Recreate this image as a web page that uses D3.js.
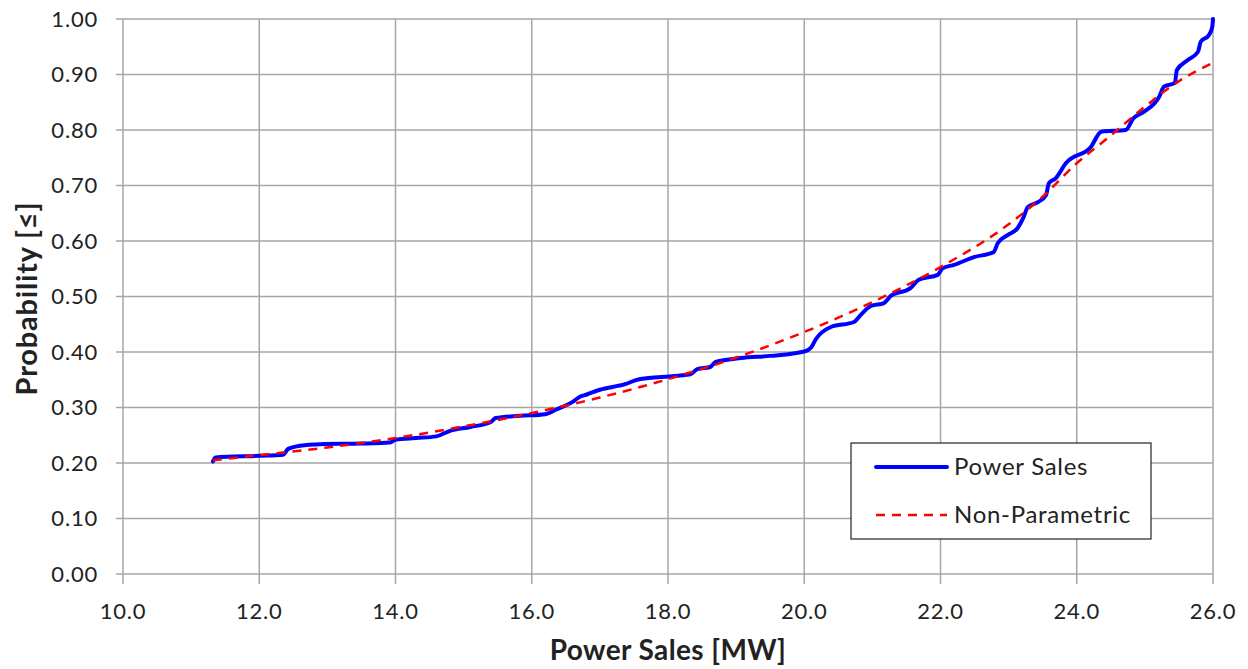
<!DOCTYPE html>
<html>
<head>
<meta charset="utf-8">
<script src="https://cdn.jsdelivr.net/npm/d3@7"></script>
<style>
  body { margin: 0; background: #fff; }
  svg { display: block; }
  text { font-family: Lato, Carlito, "Liberation Sans", Arial, sans-serif; fill: #222; }
</style>
</head>
<body>
<svg id="chart" width="1248" height="669"></svg>
<script>
const salesX = [11.32, 11.36, 12.0, 12.35, 12.42, 12.6, 12.9, 13.5, 13.92, 14.0, 14.3, 14.6, 14.8, 15.1, 15.4, 15.47,
  15.83, 16.2, 16.35, 16.6, 16.7, 16.8, 17.0, 17.37, 17.55, 17.9, 18.33, 18.43, 18.62, 18.7, 19.07, 19.5, 20.0, 20.1,
  20.17, 20.39, 20.73, 20.83, 20.98, 21.17, 21.27, 21.56, 21.68, 21.96, 22.03, 22.2, 22.49, 22.78, 22.84, 22.99, 23.13,
  23.22, 23.28, 23.43, 23.55, 23.59, 23.69, 23.84, 24.21, 24.36, 24.72, 24.83, 24.99, 25.21, 25.28, 25.44, 25.47, 25.63,
  25.78, 25.82, 25.94, 25.99, 26.0];
const salesP = [0.203, 0.210, 0.213, 0.215, 0.225, 0.231, 0.234, 0.235, 0.237, 0.242, 0.245, 0.248, 0.258, 0.265, 0.274, 0.281,
  0.285, 0.288, 0.296, 0.310, 0.319, 0.323, 0.332, 0.342, 0.350, 0.355, 0.360, 0.369, 0.373, 0.382, 0.389, 0.393, 0.401, 0.408,
  0.423, 0.445, 0.454, 0.467, 0.483, 0.488, 0.501, 0.515, 0.530, 0.539, 0.551, 0.557, 0.571, 0.580, 0.596, 0.611, 0.623,
  0.643, 0.661, 0.670, 0.683, 0.704, 0.713, 0.740, 0.770, 0.797, 0.800, 0.821, 0.833, 0.860, 0.878, 0.885, 0.908, 0.926,
  0.941, 0.959, 0.971, 0.986, 1.0];

// non-parametric fit
const fitX = [11.32, 12, 13, 14, 15, 16, 17, 18, 19, 20, 21, 22, 23, 23.5, 24, 24.5, 25, 25.5, 26];
const fitP = [0.205, 0.214, 0.228, 0.245, 0.266, 0.290, 0.318, 0.351, 0.390, 0.436, 0.490, 0.553, 0.630, 0.680, 0.740, 0.790, 0.842, 0.888, 0.921];

const xTicks = d3.range(10, 26.01, 2);
const yTicks = d3.range(0, 1.001, 0.1);

const svg = d3.select('#chart');
const margin = { left: 123, right: 35, top: 19, bottom: 95 };
const W = 1248, H = 669;

const x = d3.scaleLinear([10, 26], [margin.left, W - margin.right]);
const y = d3.scaleLinear([0, 1], [H - margin.bottom, margin.top]);

const grid = svg.append('g').attr('stroke', '#a6a6a6').attr('stroke-width', 1.5);
grid.selectAll('.gx').data(xTicks).join('line')
  .attr('x1', d => x(d)).attr('x2', d => x(d))
  .attr('y1', y(1)).attr('y2', y(0) + 10);
grid.selectAll('.gy').data(yTicks).join('line')
  .attr('y1', d => y(d)).attr('y2', d => y(d))
  .attr('x1', x(10) - 7).attr('x2', x(26));

svg.append('g').selectAll('text').data(yTicks).join('text')
  .attr('x', 98).attr('y', d => y(d)).attr('dy', '0.35em')
  .attr('text-anchor', 'end').attr('font-size', 22).attr('letter-spacing', 0.8)
  .text(d => d.toFixed(2));

svg.append('g').selectAll('text').data(xTicks).join('text')
  .attr('x', d => x(d)).attr('y', 619)
  .attr('text-anchor', 'middle').attr('font-size', 22).attr('letter-spacing', 0.8)
  .text(d => d.toFixed(1));

svg.append('text')
  .attr('x', 668).attr('y', 660).attr('text-anchor', 'middle')
  .attr('font-size', 28).attr('font-weight', 'bold').attr('letter-spacing', 0.4)
  .text('Power Sales [MW]');

svg.append('text')
  .attr('transform', `translate(37,${y(0.5) + 2}) rotate(-90)`)
  .attr('text-anchor', 'middle')
  .attr('font-size', 29).attr('font-weight', 'bold').attr('letter-spacing', 0.8)
  .text('Probability [≤]');

const line = d3.line().x(d => x(d[0])).y(d => y(d[1]));

svg.append('path')
  .datum(d3.zip(salesX, salesP))
  .attr('fill', 'none').attr('stroke', '#0000ff').attr('stroke-width', 4)
  .attr('stroke-linejoin', 'round').attr('stroke-linecap', 'round')
  .attr('d', line.curve(d3.curveMonotoneX));

svg.append('path')
  .datum(d3.zip(fitX, fitP))
  .attr('fill', 'none').attr('stroke', '#ff0000').attr('stroke-width', 2.5)
  .attr('stroke-dasharray', '9,7')
  .attr('d', line.curve(d3.curveMonotoneX));

// legend
const lg = svg.append('g').attr('transform', 'translate(851,443)');
lg.append('rect').attr('width', 300).attr('height', 96)
  .attr('fill', '#fff').attr('stroke', '#222').attr('stroke-width', 1.2);
lg.append('line').attr('x1', 25).attr('x2', 96).attr('y1', 24).attr('y2', 24)
  .attr('stroke', '#0000ff').attr('stroke-width', 4).attr('stroke-linecap', 'round');
lg.append('line').attr('x1', 25).attr('x2', 96).attr('y1', 72).attr('y2', 72)
  .attr('stroke', '#ff0000').attr('stroke-width', 2.5).attr('stroke-dasharray', '9,7');
lg.append('text').attr('x', 103).attr('y', 24).attr('dy', '0.35em').attr('font-size', 24)
  .attr('letter-spacing', 0.7).text('Power Sales');
lg.append('text').attr('x', 103).attr('y', 72).attr('dy', '0.35em').attr('font-size', 24)
  .attr('letter-spacing', 0.7).text('Non-Parametric');
</script>
</body>
</html>
